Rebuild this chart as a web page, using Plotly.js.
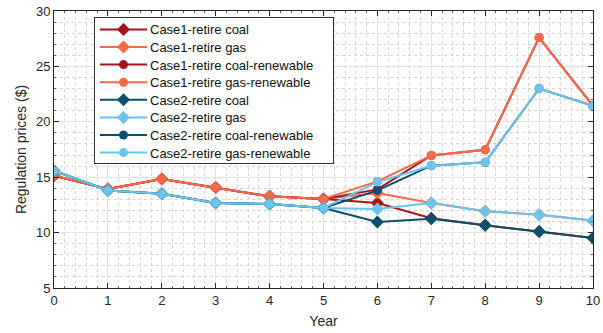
<!DOCTYPE html>
<html>
<head>
<meta charset="utf-8">
<script src="https://cdn.plot.ly/plotly-3.0.1.min.js"></script>
<style>html,body{margin:0;padding:0;background:#fff;}#chart{width:603px;height:333px;}</style>
</head>
<body>
<div id="chart"></div>
<script>
const years = [0,1,2,3,4,5,6,7,8,9,10];
const case1RetireCoal = [15.14,13.93,14.83,14.08,13.27,13.03,12.67,11.30,10.66,10.09,9.52];
const case1RetireGas = [15.14,13.93,14.83,14.08,13.27,13.03,13.57,12.67,11.92,11.62,11.08];
const case1RetireCoalRen = [15.14,13.93,14.83,14.08,13.27,13.03,13.90,16.96,17.48,27.60,21.44];
const case1RetireGasRen = [15.14,13.93,14.83,14.08,13.27,13.03,14.62,16.96,17.48,27.60,21.44];
const case2RetireCoal = [15.59,13.81,13.51,12.67,12.58,12.22,10.96,11.26,10.66,10.09,9.52];
const case2RetireGas = [15.59,13.81,13.51,12.67,12.58,12.22,12.13,12.67,11.92,11.62,11.08];
const case2RetireCoalRen = [15.59,13.81,13.51,12.67,12.58,12.22,13.81,16.04,16.34,23.00,21.44];
const case2RetireGasRen = [15.59,13.81,13.51,12.67,12.58,12.22,14.56,16.04,16.34,23.00,21.44];
const seriesNames = ['Case1-retire coal','Case1-retire gas','Case1-retire coal-renewable','Case1-retire gas-renewable','Case2-retire coal','Case2-retire gas','Case2-retire coal-renewable','Case2-retire gas-renewable'];
const seriesData = [case1RetireCoal,case1RetireGas,case1RetireCoalRen,case1RetireGasRen,case2RetireCoal,case2RetireGas,case2RetireCoalRen,case2RetireGasRen];
const colors = ['#A8131C','#F8684A','#A8131C','#F8684A','#0B4F6C','#6CC4EA','#0B4F6C','#6CC4EA'];
const symbols = ['diamond','diamond','circle','circle','diamond','diamond','circle','circle'];

const traces = seriesData.map((d,i)=>({
  x: years, y: d, name: seriesNames[i], type:'scatter', mode:'lines+markers',
  line:{color:colors[i], width:2},
  marker:{color:colors[i], symbol:symbols[i], size: symbols[i]==='diamond'?10:9}
}));

const axisCommon = {
  showline:true, linecolor:'#262626', linewidth:1, mirror:'ticks',
  ticks:'inside', ticklen:5, tickcolor:'#262626', tickwidth:1,
  showgrid:true, gridcolor:'#e2e2e2', gridwidth:1, zeroline:false,
  tickfont:{family:'Liberation Sans, Arial, sans-serif', size:13, color:'#262626'}
};

const layout = {
  width:603, height:333,
  margin:{l:54, r:10, t:11, b:45},
  paper_bgcolor:'#fff', plot_bgcolor:'#fff',
  font:{family:'Liberation Sans, Arial, sans-serif', color:'#262626'},
  xaxis: Object.assign({}, axisCommon, {
    range:[0,10], dtick:1, tick0:0,
    title:{text:'Year', font:{size:14, color:'#262626'}, standoff:9},
    minor:{dtick:0.2, showgrid:true, gridcolor:'#d6d6d6', griddash:'dot', gridwidth:1, ticks:'inside', ticklen:2, tickcolor:'#666'}
  }),
  yaxis: Object.assign({}, axisCommon, {
    range:[5,30], dtick:5, tick0:5,
    title:{text:'Regulation prices ($)', font:{size:14, color:'#262626'}, standoff:6},
    minor:{dtick:1, showgrid:true, gridcolor:'#d6d6d6', griddash:'dot', gridwidth:1, ticks:'inside', ticklen:2, tickcolor:'#666'}
  }),
  legend:{
    x:0.0742, y:0.978, xanchor:'left', yanchor:'top',
    bgcolor:'#fff', bordercolor:'#333', borderwidth:1,
    font:{size:13, color:'#111'}, tracegroupgap:0
  },
  showlegend:true
};

const gd = document.getElementById('chart');
Plotly.newPlot(gd, traces, layout, {displayModeBar:false, staticPlot:true}).then(()=>{
  // compact legend rows to match the reference's spacing and sample length
  const leg = gd.querySelector('.legend');
  if (!leg) return;
  const rowH = 17.6, firstRow = 12.3, boxW = 239, boxH = 146;
  const sb = leg.querySelector('.scrollbox');
  if (sb) sb.removeAttribute('clip-path');
  leg.querySelectorAll('.traces').forEach((g,i)=>{
    g.setAttribute('transform', 'translate(1,' + (firstRow + rowH*i) + ')');
    g.querySelectorAll('.legendlines path').forEach(p=>p.setAttribute('d','M5,0h47'));
    g.querySelectorAll('.legendpoints path').forEach(p=>p.setAttribute('transform','translate(28.5,0)'));
    g.querySelectorAll('text.legendtext').forEach(t=>t.setAttribute('x','55'));
  });
  const bg = leg.querySelector('rect.bg');
  if (bg) { bg.setAttribute('width', boxW); bg.setAttribute('height', boxH); }
});
</script>
</body>
</html>
